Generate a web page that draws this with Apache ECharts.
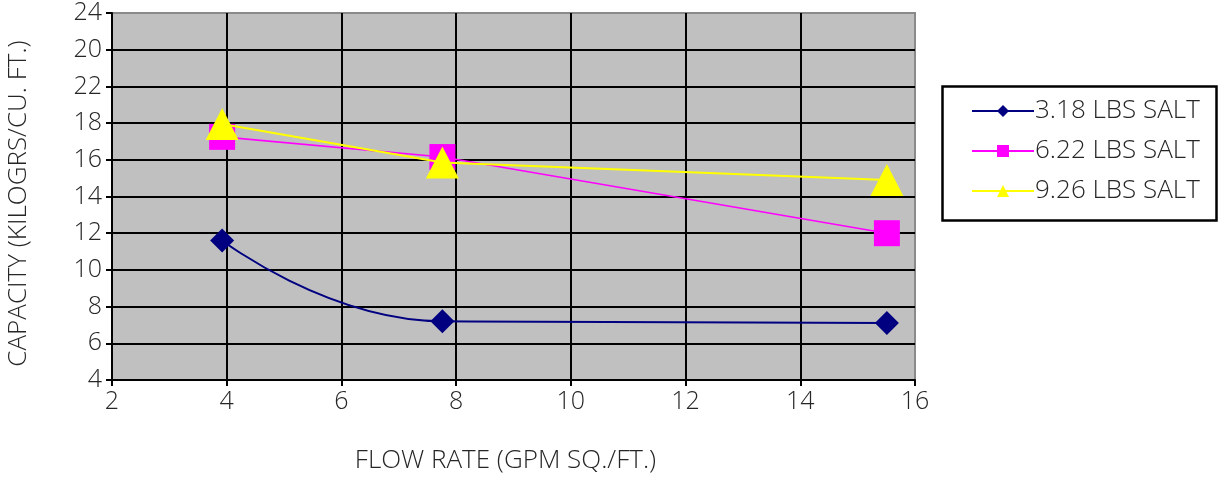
<!DOCTYPE html>
<html>
<head>
<meta charset="utf-8">
<script src="https://cdn.jsdelivr.net/npm/echarts@6/dist/echarts.min.js"></script>
<style>
html,body{margin:0;padding:0;background:#fff;}
#chart{width:1218px;height:477px;}
</style>
</head>
<body>
<div id="chart"></div>
<script>
var flowRate = [3.92, 7.76, 15.51];
var salt318 = [11.6, 7.2, 7.1];
var salt622 = [17.25, 16.15, 12.0];
var salt926 = [17.95, 15.85, 14.9];
var seriesNames = ['3.18 LBS SALT', '6.22 LBS SALT', '9.26 LBS SALT'];
var yTickLabels = ['4', '6', '8', '10', '12', '14', '16', '18', '22', '20', '24'];
var xTickLabels = ['2', '4', '6', '8', '10', '12', '14', '16'];
var xTitle = 'FLOW RATE (GPM SQ./FT.)';
var yTitle = 'CAPACITY (KILOGRS/CU. FT.)';

function pairs(xs, ys) { return xs.map(function (x, i) { return [x, ys[i]]; }); }

var FONT = '"Open Sans", sans-serif';
var TXT = '#262626';
var FW = 300;

var chart = echarts.init(document.getElementById('chart'), null, {renderer: 'canvas'});
chart.setOption({
  animation: false,
  grid: {
    left: 112, right: 303, top: 13, bottom: 97,
    outerBoundsMode: 'none', containLabel: false,
    show: true, backgroundColor: '#c0c0c0', borderColor: '#8a8a8a', borderWidth: 2
  },
  xAxis: {
    type: 'value', min: 2, max: 16, interval: 2,
    name: xTitle, nameLocation: 'middle', nameGap: 68,
    nameTextStyle: {fontFamily: FONT, fontSize: 26, fontWeight: FW, color: TXT, padding: [0, 16, 0, 0]},
    axisLine: {show: true, lineStyle: {color: '#000', width: 2}},
    axisTick: {show: true, length: 6, lineStyle: {color: '#000', width: 2}},
    axisLabel: {
      fontFamily: FONT, fontSize: 25, fontWeight: FW, color: TXT, margin: 9,
      formatter: function (v) { return xTickLabels[Math.round((v - 2) / 2)]; }
    },
    splitLine: {show: true, showMinLine: false, showMaxLine: false, lineStyle: {color: '#000', width: 2}}
  },
  yAxis: {
    type: 'value', min: 4, max: 24, interval: 2,
    name: yTitle, nameLocation: 'middle', nameGap: 80,
    nameTextStyle: {fontFamily: FONT, fontSize: 26, fontWeight: FW, color: TXT, padding: [0, 0, 0, -14]},
    axisLine: {show: true, lineStyle: {color: '#000', width: 2}},
    axisTick: {show: true, length: 6, lineStyle: {color: '#000', width: 2}},
    axisLabel: {
      fontFamily: FONT, fontSize: 25, fontWeight: FW, color: TXT, margin: 10,
      formatter: function (v) { return yTickLabels[Math.round((v - 4) / 2)]; }
    },
    splitLine: {show: true, showMinLine: false, showMaxLine: false, lineStyle: {color: '#000', width: 2}}
  },
  legend: {
    orient: 'vertical', left: 966, top: 93,
    itemWidth: 62, itemHeight: 15, itemGap: 14,
    textStyle: {fontFamily: FONT, fontSize: 26, fontWeight: FW, color: TXT, padding: [0, 0, 0, -4]},
    data: seriesNames
  },
  graphic: [{
    type: 'rect', left: 940, top: 84,
    shape: {width: 274, height: 134},
    style: {fill: 'none', stroke: '#000', lineWidth: 2.5}
  }],
  series: [
    {
      name: seriesNames[0], type: 'line', data: pairs(flowRate, salt318),
      smooth: 0.5, symbol: 'diamond', symbolSize: 24,
      lineStyle: {color: '#000080', width: 2}, itemStyle: {color: '#000080'}, z: 3
    },
    {
      name: seriesNames[1], type: 'line', data: pairs(flowRate, salt622),
      symbol: 'rect', symbolSize: 26,
      lineStyle: {color: '#ff00ff', width: 1.6}, itemStyle: {color: '#ff00ff'}, z: 4
    },
    {
      name: seriesNames[2], type: 'line', data: pairs(flowRate, salt926),
      symbol: 'triangle', symbolSize: [33, 32],
      lineStyle: {color: '#ffff00', width: 2}, itemStyle: {color: '#ffff00'}, z: 5
    }
  ]
});
</script>
</body>
</html>
